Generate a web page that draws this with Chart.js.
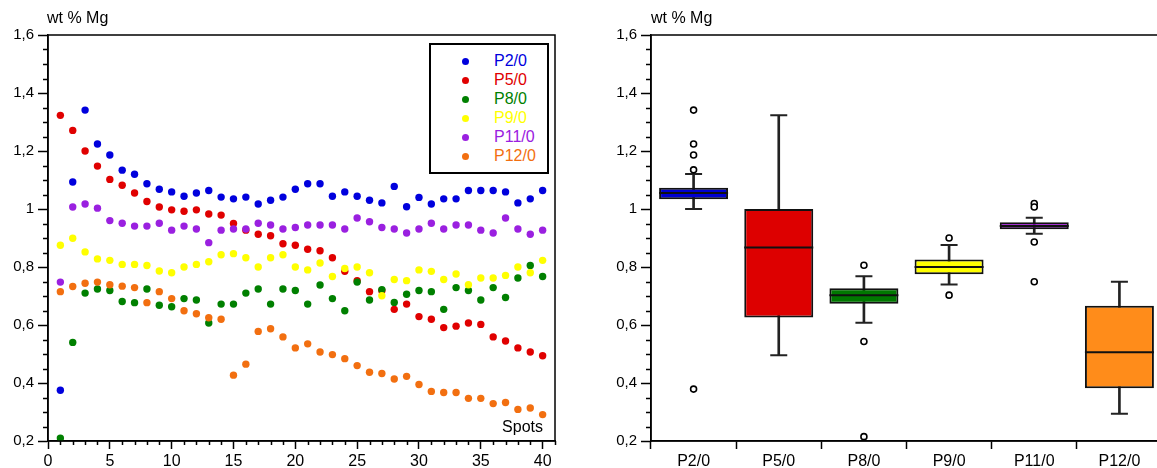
<!DOCTYPE html>
<html>
<head>
<meta charset="utf-8">
<script src="https://cdn.jsdelivr.net/npm/chart.js@4.4.0/dist/chart.umd.min.js"></script>
<style>
html,body{margin:0;padding:0;background:#fff;overflow:hidden;width:1157px;height:468px;}
body{position:relative;font-family:"Liberation Sans",Arial,sans-serif;}
#c1{position:absolute;left:0;top:0;}
#c2{position:absolute;left:600px;top:0;}
.t{position:absolute;font-size:16px;line-height:19px;color:#000;white-space:nowrap;}
#legend{position:absolute;left:429px;top:43px;width:120px;height:131px;border:2px solid #000;box-sizing:border-box;background:#fff;}
.row{position:absolute;left:0;width:116px;height:20px;line-height:20px;font-size:16px;}
.dot{position:absolute;left:31px;top:6.5px;width:7px;height:7px;border-radius:50%;}
.lbl{position:absolute;left:63px;top:0;}
</style>
</head>
<body>
<canvas id="c1" width="580" height="468"></canvas>
<canvas id="c2" width="562" height="468"></canvas>
<div class="t" style="left:47px;top:8px;">wt % Mg</div>
<div class="t" style="left:651px;top:8px;">wt % Mg</div>
<div class="t" style="right:614px;top:417px;">Spots</div>
<div id="legend"></div>
<script>
// ---------- Data ----------
const spots = [1,2,3,4,5,6,7,8,9,10,11,12,13,14,15,16,17,18,19,20,21,22,23,24,25,26,27,28,29,30,31,32,33,34,35,36,37,38,39,40];
const seriesNames = ['P2/0','P5/0','P8/0','P9/0','P11/0','P12/0'];
const p2  = [0.375,1.093,1.341,1.224,1.186,1.134,1.120,1.087,1.068,1.059,1.044,1.055,1.064,1.041,1.035,1.041,1.017,1.030,1.041,1.068,1.087,1.087,1.044,1.059,1.044,1.030,1.021,1.078,1.008,1.040,1.017,1.035,1.035,1.064,1.064,1.064,1.059,1.021,1.035,1.064];
const p5  = [1.323,1.271,1.200,1.148,1.102,1.082,1.055,1.026,1.007,0.997,0.992,0.997,0.983,0.979,0.950,0.927,0.913,0.908,0.880,0.875,0.861,0.856,0.832,0.785,0.753,0.715,0.718,0.654,0.672,0.629,0.620,0.591,0.596,0.607,0.602,0.559,0.545,0.521,0.507,0.494];
const p8  = [0.210,0.540,0.710,0.724,0.719,0.681,0.677,0.724,0.668,0.663,0.691,0.686,0.607,0.672,0.672,0.710,0.724,0.672,0.724,0.719,0.672,0.738,0.691,0.649,0.748,0.686,0.722,0.678,0.706,0.719,0.715,0.654,0.729,0.719,0.686,0.729,0.695,0.762,0.805,0.767];
const p9  = [0.875,0.899,0.852,0.828,0.823,0.809,0.809,0.805,0.786,0.780,0.800,0.809,0.818,0.842,0.846,0.832,0.800,0.832,0.842,0.800,0.790,0.814,0.767,0.795,0.800,0.780,0.701,0.757,0.753,0.790,0.785,0.757,0.776,0.739,0.762,0.762,0.771,0.800,0.780,0.823];
const p11 = [0.748,1.007,1.017,1.003,0.960,0.951,0.941,0.941,0.951,0.927,0.941,0.931,0.884,0.927,0.931,0.931,0.951,0.945,0.931,0.936,0.945,0.945,0.945,0.931,0.969,0.956,0.936,0.931,0.917,0.931,0.951,0.931,0.945,0.945,0.927,0.917,0.969,0.931,0.913,0.927];
const p12 = [0.715,0.733,0.744,0.748,0.739,0.734,0.729,0.677,0.715,0.691,0.649,0.639,0.625,0.620,0.427,0.465,0.578,0.587,0.559,0.521,0.535,0.507,0.498,0.484,0.460,0.437,0.433,0.414,0.423,0.395,0.371,0.367,0.367,0.347,0.347,0.329,0.333,0.309,0.314,0.291];
const seriesValues = [p2,p5,p8,p9,p11,p12];
const dotColors = ['#0000dd','#e00000','#008000','#ffff00','#9a20e0','#f26f10'];

const boxCats   = ['P2/0','P5/0','P8/0','P9/0','P11/0','P12/0'];
const boxQ1     = [1.034,0.626,0.673,0.775,0.930,0.382];
const boxQ3     = [1.073,1.000,0.727,0.826,0.954,0.666];
const boxMedian = [1.055,0.867,0.703,0.800,0.941,0.506];
const whiskLow  = [1.000,0.496,0.608,0.740,0.915,0.294];
const whiskHigh = [1.121,1.323,0.768,0.876,0.970,0.749];
const outliers  = [[1.341,1.224,1.186,1.135,0.379],[],[0.806,0.543,0.215],[0.900,0.703],[1.019,1.007,0.886,0.749],[]];
const boxColors = ['#0000d0','#dd0000','#007800','#ffff00','#9900d6','#ff8c1a'];

const yMin = 0.2, yMax = 1.6, yMajor = 0.2, yMinor = 0.05;
const xMin = 0, xMax = 41, xMajor = 5, xMinor = 1;

// ---------- Helpers ----------
Chart.defaults.font.family = "'Liberation Sans', Arial, sans-serif";
Chart.defaults.color = '#000';
const isMajor = (v, step) => Math.abs(v / step - Math.round(v / step)) < 1e-6;
const fmt = v => String(Math.round(v * 10) / 10).replace('.', ',');

function yAxis(width) {
  return {
    type: 'linear', min: yMin, max: yMax,
    afterFit(s) { s.width = width; },
    border: { display: true, color: '#000', width: 1.5 },
    grid: { drawOnChartArea: false, tickLength: 10, tickWidth: 1.5,
            tickColor: c => isMajor(c.tick.value, yMajor) ? '#000' : 'rgba(0,0,0,0)' },
    ticks: { stepSize: yMinor, autoSkip: false, padding: 4, color: '#000', font: { size: 15 },
             callback: v => isMajor(v, yMajor) ? fmt(v) : '' }
  };
}

const frameTicks = {
  id: 'frameTicks',
  afterDraw(chart) {
    const { ctx, chartArea: a, scales } = chart;
    ctx.save();
    ctx.strokeStyle = '#000';
    ctx.lineWidth = 1.5;
    ctx.strokeRect(a.left, a.top, a.right - a.left, a.bottom - a.top);
    ctx.beginPath();
    const y = scales.y;
    y.ticks.forEach(t => {
      if (!isMajor(t.value, yMajor)) {
        const p = Math.round(y.getPixelForValue(t.value)) + 0.5;
        ctx.moveTo(a.left - 5, p); ctx.lineTo(a.left, p);
      }
    });
    const x = scales.x;
    if (x.type === 'linear') {
      x.ticks.forEach(t => {
        if (!isMajor(t.value, xMajor)) {
          const p = Math.round(x.getPixelForValue(t.value)) + 0.5;
          ctx.moveTo(p, a.bottom); ctx.lineTo(p, a.bottom + 4);
        }
      });
    }
    ctx.stroke();
    ctx.restore();
  }
};

// ---------- Left chart: scatter ----------
new Chart(document.getElementById('c1'), {
  type: 'scatter',
  data: {
    datasets: seriesNames.map((n, k) => ({
      label: n,
      data: spots.map((s, i) => ({ x: s, y: seriesValues[k][i] })),
      backgroundColor: dotColors[k],
      borderWidth: 0,
      pointRadius: 3.7,
      pointHoverRadius: 3.7,
      order: seriesNames.length - k
    }))
  },
  options: {
    responsive: false, animation: false, events: [],
    layout: { autoPadding: false, padding: { top: 35, right: 25, left: 0, bottom: 0 } },
    plugins: { legend: { display: false }, tooltip: { enabled: false } },
    scales: {
      x: {
        type: 'linear', min: xMin, max: xMax,
        afterFit(s) { s.height = 27; },
        border: { display: true, color: '#000', width: 1.5 },
        grid: { drawOnChartArea: false, tickLength: 8, tickWidth: 1.5,
                tickColor: c => isMajor(c.tick.value, xMajor) ? '#000' : 'rgba(0,0,0,0)' },
        ticks: { stepSize: xMinor, autoSkip: false, padding: 3, maxRotation: 0, color: '#000', font: { size: 16 },
                 callback: v => isMajor(v, xMajor) ? String(v) : '' }
      },
      y: yAxis(48)
    }
  },
  plugins: [frameTicks]
});

// ---------- Right chart: box plots ----------
new Chart(document.getElementById('c2'), {
  type: 'bar',
  data: {
    labels: boxCats,
    datasets: [
      { type: 'bar', data: boxCats.map((c, i) => [whiskLow[i], whiskHigh[i]]),
        backgroundColor: '#222', barThickness: 2, grouped: false, order: 4 },
      { type: 'bar', data: boxCats.map((c, i) => [boxQ1[i], boxQ3[i]]),
        backgroundColor: boxColors, borderColor: '#111', borderWidth: 2, borderSkipped: false,
        barPercentage: 0.81, categoryPercentage: 1, grouped: false, order: 3 },
      { type: 'scatter', data: boxCats.map((c, i) => ({ x: c, y: boxMedian[i] })),
        pointStyle: 'line', pointRadius: 34.5, pointHoverRadius: 34.5, borderColor: '#111', borderWidth: 2, order: 2 },
      { type: 'scatter', data: boxCats.flatMap((c, i) => [{ x: c, y: whiskLow[i] }, { x: c, y: whiskHigh[i] }]),
        pointStyle: 'line', pointRadius: 8.5, pointHoverRadius: 8.5, borderColor: '#222', borderWidth: 2, order: 2 },
      { type: 'scatter', data: boxCats.flatMap((c, i) => outliers[i].map(v => ({ x: c, y: v }))),
        pointStyle: 'circle', pointRadius: 3, pointHoverRadius: 3, borderColor: '#000', borderWidth: 1.6,
        backgroundColor: '#fff', order: 1 }
    ]
  },
  options: {
    responsive: false, animation: false, events: [],
    layout: { autoPadding: false, padding: { top: 35, right: 0, left: 0, bottom: 0 } },
    plugins: { legend: { display: false }, tooltip: { enabled: false } },
    scales: {
      x: {
        type: 'category', offset: true,
        afterFit(s) { s.height = 27; },
        border: { display: true, color: '#000', width: 1.5 },
        grid: { offset: true, drawOnChartArea: false, tickLength: 8, tickWidth: 1.5, tickColor: '#000' },
        ticks: { padding: 3, color: '#000', font: { size: 16 }, maxRotation: 0, autoSkip: false }
      },
      y: yAxis(51)
    }
  },
  plugins: [frameTicks]
});

// ---------- Legend (HTML, text kept as text) ----------
const legend = document.getElementById('legend');
seriesNames.forEach((n, k) => {
  const row = document.createElement('div');
  row.className = 'row';
  row.style.top = (6 + 19 * k) + 'px';
  const dot = document.createElement('span');
  dot.className = 'dot';
  dot.style.background = dotColors[k];
  const lbl = document.createElement('span');
  lbl.className = 'lbl';
  lbl.style.color = dotColors[k];
  lbl.textContent = n;
  row.appendChild(dot); row.appendChild(lbl);
  legend.appendChild(row);
});
</script>
</body>
</html>
